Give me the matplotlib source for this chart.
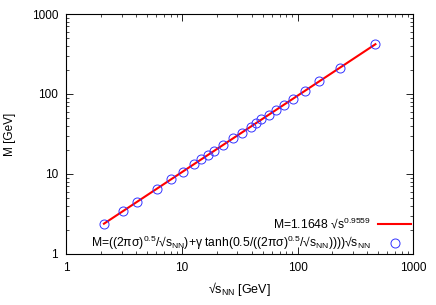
import matplotlib
matplotlib.use("Agg")
import matplotlib.pyplot as plt
import numpy as np

plt.rcParams['font.family'] = ['Liberation Sans', 'DejaVu Sans']
plt.rcParams['mathtext.fontset'] = 'custom'
plt.rcParams['mathtext.rm'] = 'Liberation Sans'
plt.rcParams['mathtext.it'] = 'Liberation Sans'

# data
sqrt_s = [2.11, 3.07, 4.08, 6.04, 8.03, 10.1, 12.6, 14.5, 16.7, 18.8, 22.5, 27.6,
          32.9, 39.6, 43.5, 48.7, 56.1, 64.8, 76.0, 91.8, 115, 153, 235, 472]
mass = [2.38, 3.40, 4.49, 6.48, 8.58, 10.6, 13.2, 15.3, 17.3, 19.1, 22.9, 27.9,
        32.7, 38.9, 43.0, 47.9, 54.5, 62.3, 71.9, 87.3, 109, 144, 214, 424]

# fit parameters
a_fit = 1.1648
b_fit = 0.9559

fig = plt.figure(figsize=(4.36, 3.05), dpi=100)
ax = fig.add_axes([0.1525, 0.168, 0.795, 0.786])

xs = np.array([sqrt_s[0], sqrt_s[-1]])
line, = ax.plot(xs, a_fit * xs ** b_fit, color='#ff0000', linewidth=1.5)
pts, = ax.plot(sqrt_s, mass, linestyle='none', marker='o', markersize=6.5,
               markerfacecolor='none', markeredgecolor='#3333ff', markeredgewidth=0.7)

ax.set_xscale('log')
ax.set_yscale('log')
ax.set_xlim(1, 1000)
ax.set_ylim(1, 1000)
ax.set_xticks([1, 10, 100, 1000])
ax.set_xticklabels(['1', '10', '100', '1000'])
ax.set_yticks([1, 10, 100, 1000])
ax.set_yticklabels(['1', '10', '100', '1000'])
ax.tick_params(which='both', direction='in', top=True, right=True, labelsize=8.5)
ax.tick_params(which='major', length=5, width=0.6, pad=6)
ax.tick_params(which='minor', length=2.5, width=0.5)
for sp in ax.spines.values():
    sp.set_linewidth(0.8)

ax.set_xlabel('√s$_{\\mathrm{NN}}$ [GeV]', fontsize=9, labelpad=4)
ax.set_ylabel('M [GeV]', fontsize=8.5, labelpad=11)

lab1 = 'M=1.1648 √s$^{0.9559}$'
lab2 = ('M=((2πσ)$^{0.5}$/√s$_{\\mathrm{NN}}$)+γ tanh(0.5/((2πσ)$^{0.5}$'
        '/√s$_{\\mathrm{NN}}$))))√s$_{\\mathrm{NN}}$')

leg1 = ax.legend([line], [lab1], loc='center right', bbox_to_anchor=(0.994, 0.125),
                 markerfirst=False, frameon=False, fontsize=8.7, handlelength=2.7,
                 handletextpad=0.65, borderpad=0, borderaxespad=0)
ax.add_artist(leg1)
ax.legend([pts], [lab2], loc='center right', bbox_to_anchor=(0.994, 0.045),
          markerfirst=False, frameon=False, fontsize=8.7, handlelength=2.7,
          handletextpad=0.65, borderpad=0, borderaxespad=0)

fig.savefig('out.png', dpi=100)
